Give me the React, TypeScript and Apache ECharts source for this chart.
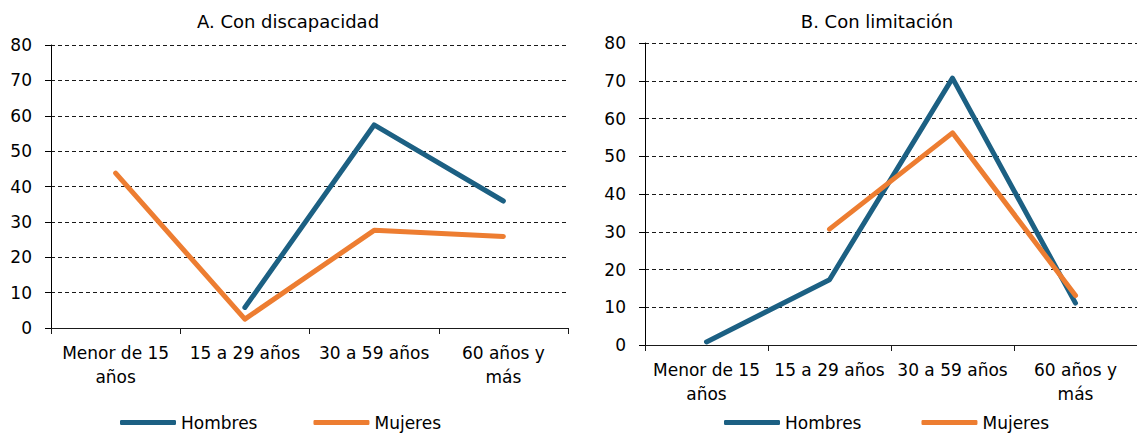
import React, { useEffect, useRef } from "react";
import * as echarts from "echarts";

const categories = ["Menor de 15\naños", "15 a 29 años", "30 a 59 años", "60 años y\nmás"];
const seriesNames = ["Hombres", "Mujeres"];
const discapacidadHombres = [null, 5.8, 57.4, 35.9];
const discapacidadMujeres = [43.8, 2.5, 27.6, 25.9];
const limitacionHombres = [0.8, 17.3, 70.7, 11.1];
const limitacionMujeres = [null, 30.7, 56.2, 13.1];
const panelTitles = ["A. Con discapacidad", "B. Con limitación"];
const yMin = 0;
const yMax = 80;
const yInterval = 10;

const BLUE = "#1C6083";
const ORANGE = "#ED7D31";
const FONT = "DejaVu Sans";

export default function App() {
  const ref = useRef<HTMLDivElement>(null);

  useEffect(() => {
    document.body.style.margin = "0";
    if (!ref.current) return;
    const chart = echarts.init(ref.current, null, { renderer: "svg" });

    const grids = [
      { left: 51, right: 569, top: 45, bottom: 108 },
      { left: 645, right: -12, top: 43, bottom: 91 },
    ];

    const xAxis = grids.map((_, i) => ({
      type: "category",
      gridIndex: i,
      data: categories,
      boundaryGap: true,
      axisLine: { lineStyle: { color: "#1a1a1a", width: 1 } },
      axisTick: { show: true, length: 6, inside: false, lineStyle: { color: "#1a1a1a" } },
      axisLabel: {
        interval: 0,
        color: "#000",
        fontFamily: FONT,
        fontSize: 17,
        lineHeight: 24,
        margin: 13,
      },
      splitLine: { show: false },
    }));

    const yAxis = grids.map((_, i) => ({
      type: "value",
      gridIndex: i,
      min: yMin,
      max: yMax,
      interval: yInterval,
      axisLine: { show: true, lineStyle: { color: "#000", width: 1 } },
      axisTick: { show: true, length: 6, lineStyle: { color: "#000" } },
      axisLabel: { color: "#000", fontFamily: FONT, fontSize: 17, margin: 19 },
      splitLine: { show: true, lineStyle: { color: "#1a1a1a", width: 1.2, type: [4, 3] } },
    }));

    const mk = (name: string, data: (number | null)[], idx: number, color: string, z: number) => ({
      name,
      type: "line",
      xAxisIndex: idx,
      yAxisIndex: idx,
      data,
      symbol: "none",
      connectNulls: false,
      z,
      itemStyle: { color },
      lineStyle: { color, width: 5, cap: "round", join: "round" },
    });

    const option = {
      animation: false,
      backgroundColor: "#fff",
      title: [
        {
          text: panelTitles[0],
          left: 283,
          top: 7,
          textAlign: "center",
          textStyle: { fontFamily: FONT, fontSize: 18, fontWeight: "normal", color: "#000" },
        },
        {
          text: panelTitles[1],
          left: 872,
          top: 7,
          textAlign: "center",
          textStyle: { fontFamily: FONT, fontSize: 18, fontWeight: "normal", color: "#000" },
        },
      ],
      legend: [
        {
          data: seriesNames,
          left: 120,
          top: 414,
          padding: 0,
          icon: "roundRect",
          itemWidth: 56,
          itemHeight: 5,
          itemGap: 56,
          textStyle: { fontFamily: FONT, fontSize: 17, color: "#000" },
        },
        {
          data: seriesNames,
          left: 724,
          top: 414,
          padding: 0,
          icon: "roundRect",
          itemWidth: 56,
          itemHeight: 5,
          itemGap: 60,
          textStyle: { fontFamily: FONT, fontSize: 17, color: "#000" },
        },
      ],
      grid: grids,
      xAxis,
      yAxis,
      series: [
        mk(seriesNames[0], discapacidadHombres, 0, BLUE, 3),
        mk(seriesNames[1], discapacidadMujeres, 0, ORANGE, 2),
        mk(seriesNames[0], limitacionHombres, 1, BLUE, 2),
        mk(seriesNames[1], limitacionMujeres, 1, ORANGE, 3),
      ],
    };

    chart.setOption(option as any);
    return () => chart.dispose();
  }, []);

  return <div ref={ref} style={{ width: 1137, height: 436 }} />;
}
